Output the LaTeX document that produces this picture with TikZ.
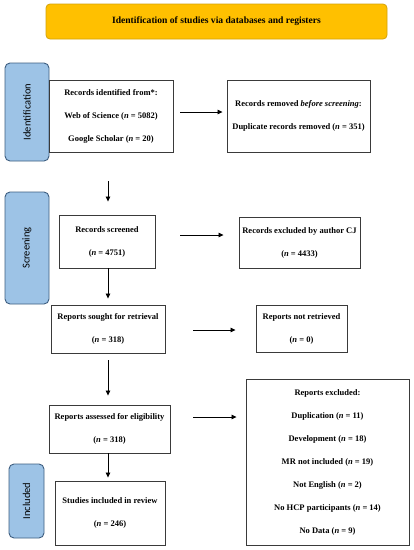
\documentclass[tikz,border=0pt]{standalone}
\usepackage{fontspec}
\setmainfont{Liberation Serif}
\newfontfamily\sidefont{Carlito}
\usetikzlibrary{arrows.meta}
\definecolor{gold}{HTML}{FFC000}
\definecolor{goldline}{HTML}{D4A20A}
\definecolor{sideblue}{HTML}{9DC3E6}
\definecolor{sideline}{HTML}{3E5E80}
\definecolor{boxline}{HTML}{3A3A3A}
\begin{document}
\begin{tikzpicture}[x=1pt,y=-1pt,
  flowbox/.style={draw=boxline, line width=0.9pt, fill=white, inner sep=0pt,
    align=center, font=\fontsize{8.5}{23}\selectfont\bfseries},
  sidebox/.style={draw=sideline, line width=0.9pt, fill=sideblue, rounded corners=5pt, inner sep=0pt},
  sidetext/.style={font=\sidefont\fontsize{10.5}{11}\selectfont, rotate=90},
  arr/.style={draw=black, line width=0.8pt, -{Triangle[length=5pt,width=4.5pt]}}]
\useasboundingbox (0,0) rectangle (414,550);
\fill[white] (0,0) rectangle (414,550);
% title
\node[draw=goldline, line width=0.8pt, fill=gold, rounded corners=4pt, minimum width=341pt, minimum height=35pt,
  font=\fontsize{9.6}{11}\selectfont\bfseries] (title) at (216.5,21.5) {Identification of studies via databases and registers};
% side boxes
\node[sidebox, minimum width=44pt, minimum height=98pt] (sid) at (27,112) {};
\node[sidetext] (sidt) at (sid.center) {Identification};
\node[sidebox, minimum width=44pt, minimum height=112pt] (sscr) at (27,248) {};
\node[sidetext] (sscrt) at (sscr.center) {Screening};
\node[sidebox, minimum width=35pt, minimum height=74pt] (sinc) at (26.5,501) {};
\node[sidetext] (sinct) at (sinc.center) {Included};
% main boxes
\node[flowbox, minimum width=124pt, minimum height=72pt] (ident) at (111,116)
  {Records identified from*:\\Web of Science (\textit{n} = 5082)\\Google Scholar (\textit{n} = 20)};
\node[flowbox, minimum width=143pt, minimum height=72pt] (removed) at (298.5,116)
  {Records removed \textit{before screening}:\\Duplicate records removed (\textit{n} = 351)};
\node[flowbox, minimum width=96pt, minimum height=53pt] (screened) at (107,241.5)
  {Records screened\\(\textit{n} = 4751)};
\node[flowbox, minimum width=121pt, minimum height=51pt] (excl) at (299.5,242.5)
  {Records excluded by author CJ\\(\textit{n} = 4433)};
\node[flowbox, minimum width=114pt, minimum height=48pt] (sought) at (108,329)
  {Reports sought for retrieval\\(\textit{n} = 318)};
\node[flowbox, minimum width=91pt, minimum height=47pt] (notret) at (301.5,328.5)
  {Reports not retrieved\\(\textit{n} = 0)};
\node[flowbox, minimum width=121pt, minimum height=48pt] (assessed) at (109.5,429)
  {Reports assessed for eligibility\\(\textit{n} = 318)};
\node[flowbox, minimum width=163pt, minimum height=166pt] (rexcl) at (327.5,462)
  {Reports excluded:\\Duplication (\textit{n} = 11)\\Development (\textit{n} = 18)\\MR not included (\textit{n} = 19)\\Not English (\textit{n} = 2)\\No HCP participants (\textit{n} = 14)\\No Data (\textit{n} = 9)};
\node[flowbox, minimum width=110pt, minimum height=64pt] (included) at (110,513)
  {Studies included in review\\(\textit{n} = 246)};
% horizontal arrows
\draw[arr, shorten <=7pt, shorten >=4pt] (ident.east |- 0,112) -- (removed.west |- 0,112);
\draw[arr, shorten <=25pt, shorten >=15pt] (screened.east |- 0,235) -- (excl.west |- 0,235);
\draw[arr, shorten <=28pt, shorten >=20pt] (sought.east |- 0,330) -- (notret.west |- 0,330);
\draw[arr, shorten <=23pt, shorten >=9pt] (assessed.east |- 0,417) -- (rexcl.west |- 0,417);
% vertical arrows
\draw[arr, shorten <=29pt, shorten >=13pt] (ident.south -| 108,0) -- (screened.north -| 108,0);
\draw[arr, shorten <=0pt, shorten >=6pt] (screened.south -| 108,0) -- (sought.north -| 108,0);
\draw[arr, shorten <=7pt, shorten >=9pt] (sought.south -| 108,0) -- (assessed.north -| 108,0);
\draw[arr, shorten <=0pt, shorten >=3pt] (assessed.south -| 108,0) -- (included.north -| 108,0);
\end{tikzpicture}
\end{document}
